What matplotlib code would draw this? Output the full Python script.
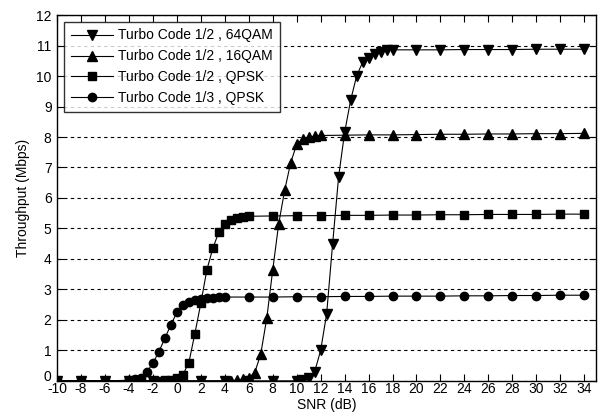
import matplotlib.pyplot as plt
import matplotlib.transforms as mtransforms

# SNR (dB) points for each curve
snr_64qam = [-10, -8, -6, -4, -2, 0, 2, 4, 6, 8, 10, 10.5, 11, 11.5, 12, 12.5, 13, 13.5, 14,
             14.5, 15, 15.5, 16, 16.5, 17, 17.5, 18, 20, 22, 24, 26, 28, 30, 32, 34]
thr_64qam = [0, 0, 0, 0, 0, 0, 0, 0, 0, 0, 0, 0.02, 0.08, 0.3, 1.0, 2.2, 4.5, 6.7, 8.15,
             9.2, 10.0, 10.45, 10.6, 10.72, 10.8, 10.84, 10.86, 10.86, 10.86, 10.87, 10.87, 10.87, 10.88, 10.88, 10.88]

snr_16qam = [-10, -8, -6, -4, -2, 0, 2, 4, 4.5, 5, 5.5, 6, 6.5, 7, 7.5, 8, 8.5, 9, 9.5, 10,
             10.5, 11, 11.5, 12, 14, 16, 18, 20, 22, 24, 26, 28, 30, 32, 34]
thr_16qam = [0, 0, 0, 0, 0, 0, 0, 0, 0.01, 0.02, 0.05, 0.1, 0.27, 0.88, 2.05, 3.64, 5.16, 6.26, 7.16, 7.76,
             7.92, 7.99, 8.03, 8.05, 8.06, 8.07, 8.07, 8.08, 8.09, 8.09, 8.1, 8.1, 8.11, 8.11, 8.12]

snr_qpsk12 = [-10, -8, -6, -4, -2, -1.5, -1, -0.5, 0, 0.5, 1, 1.5, 2, 2.5, 3, 3.5, 4, 4.5, 5, 5.5,
              6, 8, 10, 12, 14, 16, 18, 20, 22, 24, 26, 28, 30, 32, 34]
thr_qpsk12 = [0, 0, 0, 0, 0, 0.01, 0.02, 0.04, 0.08, 0.2, 0.6, 1.55, 2.55, 3.64, 4.35, 4.88, 5.15, 5.27, 5.33, 5.37,
              5.4, 5.41, 5.42, 5.42, 5.43, 5.43, 5.44, 5.44, 5.45, 5.45, 5.46, 5.46, 5.46, 5.47, 5.47]

snr_qpsk13 = [-10, -8, -6, -4, -3.5, -3, -2.5, -2, -1.5, -1, -0.5, 0, 0.5, 1, 1.5, 2, 2.5, 3, 3.5, 4,
              6, 8, 10, 12, 14, 16, 18, 20, 22, 24, 26, 28, 30, 32, 34]
thr_qpsk13 = [0, 0, 0, 0.02, 0.05, 0.1, 0.3, 0.58, 0.96, 1.4, 1.84, 2.25, 2.48, 2.58, 2.64, 2.68, 2.71, 2.73, 2.74, 2.75,
              2.75, 2.75, 2.76, 2.76, 2.77, 2.77, 2.78, 2.78, 2.78, 2.79, 2.79, 2.8, 2.8, 2.81, 2.81]

labels = ['Turbo Code 1/2 , 64QAM', 'Turbo Code 1/2 , 16QAM',
          'Turbo Code 1/2 , QPSK', 'Turbo Code 1/3 , QPSK']

plt.rcParams['font.family'] = ['Liberation Sans', 'DejaVu Sans']
plt.rcParams['axes.unicode_minus'] = False

fig = plt.figure(figsize=(6.01, 4.19), dpi=100)
ax = fig.add_axes([0.095, 0.091, 0.897, 0.873])

ax.plot(snr_64qam, thr_64qam, 'k-v', lw=0.8, ms=6.5, label=labels[0])
ax.plot(snr_16qam, thr_16qam, 'k-^', lw=0.8, ms=6.5, label=labels[1])
ax.plot(snr_qpsk12, thr_qpsk12, 'k-s', lw=0.8, ms=5.5, label=labels[2])
ax.plot(snr_qpsk13, thr_qpsk13, 'k-o', lw=0.8, ms=6, label=labels[3])

ax.set_xlim(-10, 35)
ax.set_ylim(0, 12)
ax.set_xticks(range(-10, 35, 2))
ax.set_yticks(range(0, 13))
ax.tick_params(direction='in', top=True, right=True, labelsize=10, length=5, width=0.8)
ax.tick_params(axis='x', pad=1)
ax.tick_params(axis='y', pad=4)
ax.yaxis.grid(True, color='black', linestyle=(0, (3, 3)), linewidth=0.8)
ax.set_axisbelow(True)
for s in ax.spines.values():
    s.set_linewidth(1.0)

# lift the "0" label a little so it sits clear of "-10"
zero_lbl = ax.get_yticklabels()[0]
zero_lbl.set_transform(zero_lbl.get_transform() +
                       mtransforms.ScaledTranslation(0, 4 / 72, fig.dpi_scale_trans))

ax.set_xlabel('SNR (dB)', fontsize=10, labelpad=1)
ax.set_ylabel('Throughput (Mbps)', fontsize=10, labelpad=4)

leg = ax.legend(loc='upper left', bbox_to_anchor=(0.008, 0.99), fontsize=10, handlelength=3.0,
                frameon=True, fancybox=False, borderpad=0.5, labelspacing=0.5, handletextpad=0.4,
                borderaxespad=0.2)
leg.get_frame().set_edgecolor('black')
leg.get_frame().set_linewidth(1.0)

fig.savefig('out.png', dpi=100)
